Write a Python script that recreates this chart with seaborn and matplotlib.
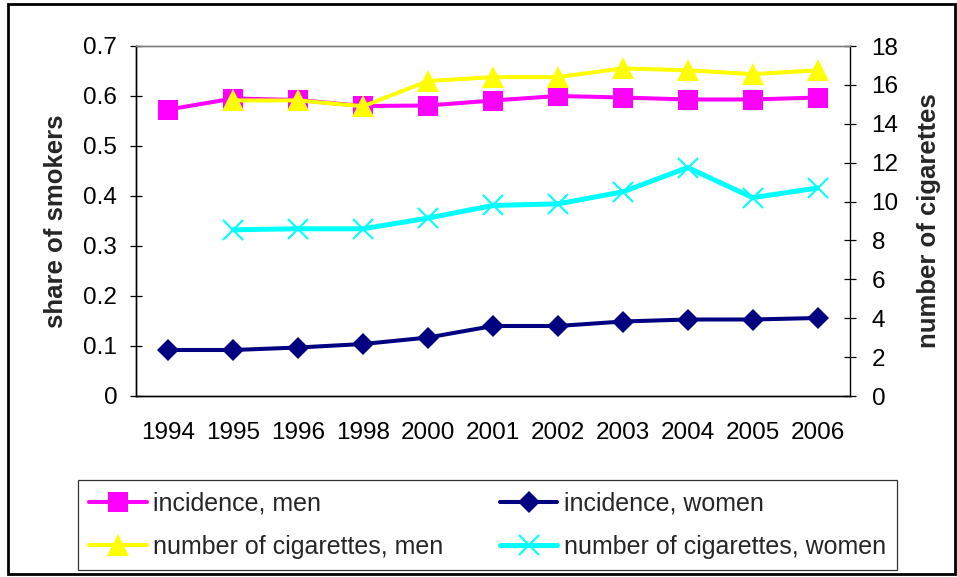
import numpy as np
import pandas as pd
import matplotlib
matplotlib.use("Agg")
import matplotlib.pyplot as plt
from matplotlib.ticker import FixedLocator, FuncFormatter, MultipleLocator
from matplotlib.patches import Rectangle
import seaborn as sns

years = ["1994", "1995", "1996", "1998", "2000", "2001", "2002", "2003", "2004", "2005", "2006"]
incidence_men = [0.573, 0.595, 0.592, 0.580, 0.581, 0.591, 0.600, 0.597, 0.593, 0.593, 0.597]
incidence_women = [0.092, 0.092, 0.097, 0.104, 0.117, 0.140, 0.140, 0.149, 0.153, 0.153, 0.156]
cigs_men = [np.nan, 15.2, 15.2, 14.9, 16.2, 16.4, 16.4, 16.85, 16.75, 16.55, 16.75]
cigs_women = [np.nan, 8.55, 8.6, 8.6, 9.15, 9.8, 9.88, 10.5, 11.75, 10.2, 10.7]

df = pd.DataFrame({
    "pos": np.arange(len(years)),
    "year": years,
    "inc_men": incidence_men,
    "inc_women": incidence_women,
    "cig_men": cigs_men,
    "cig_women": cigs_women,
})

sns.set_style("white")
plt.rcParams["font.family"] = ["Liberation Sans", "DejaVu Sans"]

fig = plt.figure(figsize=(9.57, 5.77), dpi=100)
ax = fig.add_axes([136/957, 1-396/577, (850-136)/957, (396-46)/577])
ax2 = ax.twinx()

lw = 2.9
sns.lineplot(data=df, x="pos", y="inc_men", ax=ax, color="#FF00FF", marker="s",
             markersize=14, markeredgewidth=0, markeredgecolor="#FF00FF",
             linewidth=lw, label="incidence, men", legend=False)
sns.lineplot(data=df, x="pos", y="inc_women", ax=ax, color="#000080", marker="D",
             markersize=11.5, markeredgewidth=0, markeredgecolor="#000080",
             linewidth=lw, label="incidence, women", legend=False)
sns.lineplot(data=df, x="pos", y="cig_men", ax=ax2, color="#FFFF00", marker="^",
             markersize=15.5, markeredgewidth=0, markeredgecolor="#FFFF00",
             linewidth=lw, label="number of cigarettes, men", legend=False)
sns.lineplot(data=df, x="pos", y="cig_women", ax=ax2, color="#00FFFF", marker="x",
             markersize=15, markeredgewidth=1.5, markeredgecolor="#00FFFF",
             linewidth=lw + 0.7, label="number of cigarettes, women", legend=False)

n = len(years)
ax.set_xlim(-0.5, n - 0.5)
ax.set_ylim(0, 0.7)
ax2.set_ylim(0, 18)

ax.xaxis.set_major_locator(FixedLocator(np.arange(n)))
ax.set_xticklabels(years)
ax.xaxis.set_minor_locator(FixedLocator(np.arange(n + 1) - 0.5))
ax.tick_params(axis="x", which="major", length=0, pad=19, labelsize=17.5, colors="black")
ax.tick_params(axis="x", which="minor", length=6, width=0.9, direction="out", color="black")
ax.set_xlabel("")

ax.yaxis.set_major_locator(MultipleLocator(0.1))
ax.yaxis.set_major_formatter(FuncFormatter(lambda v, p: "0" if abs(v) < 1e-9 else f"{v:.1f}"))
ax.tick_params(axis="y", which="major", length=9, width=0.9, direction="inout", pad=9,
               labelsize=17.5, left=True, colors="black")
ax2.yaxis.set_major_locator(MultipleLocator(2))
ax2.tick_params(axis="y", which="major", length=9, width=0.9, direction="inout", pad=11,
                labelsize=17.5, right=True, colors="black")

ax.set_ylabel("share of smokers", fontsize=18.5, fontweight="bold", labelpad=11)
ax2.set_ylabel("number of cigarettes", fontsize=18.5, fontweight="bold", labelpad=13)

for a in (ax, ax2):
    for side in ("left", "right", "bottom"):
        a.spines[side].set_color("black")
        a.spines[side].set_linewidth(1.0)
    a.spines["top"].set_color("#808080")
    a.spines["top"].set_linewidth(1.0)
    a.grid(False)
    a.set_facecolor("none")
ax.spines["right"].set_visible(False)

h1, l1 = ax.get_legend_handles_labels()
h2, l2 = ax2.get_legend_handles_labels()
handles = [h1[0], h2[0], h1[1], h2[1]]
labels = [l1[0], l2[0], l1[1], l2[1]]
leg = fig.legend(handles, labels, ncol=2, loc="upper left", mode="expand",
                 bbox_to_anchor=(78/957, 1-568/577, (897-78)/957, (568-480)/577),
                 fontsize=18, frameon=True, fancybox=False, edgecolor="black",
                 handlelength=2.3, handletextpad=0.25, labelspacing=0.78,
                 borderpad=0.45, borderaxespad=0)
leg.get_frame().set_linewidth(0.9)

fig.patches.append(Rectangle((8/957, 1-574/577), (955-8)/957, (574-4)/577,
                             transform=fig.transFigure, fill=False, edgecolor="black",
                             linewidth=2.0))

fig.savefig("out.png", dpi=100, facecolor="white")
